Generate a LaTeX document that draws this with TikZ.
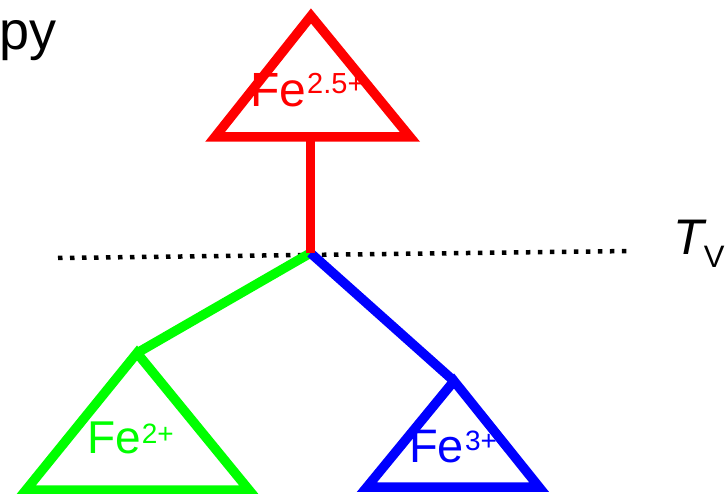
\documentclass[tikz,border=0pt]{standalone}
\usepackage{fontspec}
\setmainfont{Liberation Sans}
\definecolor{fered}{RGB}{255,0,0}
\definecolor{fegreen}{RGB}{0,255,0}
\definecolor{feblue}{RGB}{0,0,255}
\begin{document}
\begin{tikzpicture}[x=1pt,y=-1pt,
  tri/.style={line width=9.5pt,line join=miter},
  link/.style={line width=9.5pt},
  lbl/.style={inner sep=0pt,anchor=base west},
  tv/.style={line width=4.5pt,dash pattern=on 4.5pt off 7.5pt}]
\useasboundingbox (0,0) rectangle (728,494);
% top text fragment (cut by the left border)
\node[inner sep=0pt,anchor=base east] (py) at (57,50) {\fontsize{54}{54}\selectfont py};
% red triangle
\coordinate (ra) at (311,16);
\coordinate (rl) at (215,137);
\coordinate (rr) at (410,137);
\draw[tri,fered] (ra) -- (rl) -- (rr) -- cycle;
\node[lbl,text=fered] (fe25) at (250,107) {\fontsize{48}{48}\selectfont Fe\kern1pt\raisebox{13pt}{\fontsize{29}{29}\selectfont 2.5+}};
% junction
\coordinate (rb) at (310.5,137);
\coordinate (j) at (310.5,253);
% dotted line
\coordinate (dl) at (58,258);
\coordinate (dr) at (632,251);
\draw[tv] (dl) -- (dr);
\node[lbl] (tvlab) at (673,255) {\fontsize{50}{50}\selectfont\itshape T\upshape\kern0pt\raisebox{-13pt}{\fontsize{31}{31}\selectfont V}};
% green
\coordinate (ga) at (137,353);
\coordinate (gl) at (26,490);
\coordinate (gr) at (249,490);
\draw[tri,fegreen] (ga) -- (gl) -- (gr) -- cycle;
\node[lbl,text=fegreen] (fe2) at (87,453) {\fontsize{46}{46}\selectfont Fe\kern1pt\raisebox{10pt}{\fontsize{28}{28}\selectfont 2+}};
% blue
\coordinate (ba) at (454,381);
\coordinate (bl) at (367,487);
\coordinate (br) at (539,487);
\draw[tri,feblue] (ba) -- (bl) -- (br) -- cycle;
\node[lbl,text=feblue] (fe3) at (409,462) {\fontsize{47}{47}\selectfont Fe\kern1pt\raisebox{12pt}{\fontsize{28}{28}\selectfont 3+}};
% connectors
\draw[link,fegreen] (j) -- (ga);
\draw[link,feblue] (j) -- (ba);
\draw[link,fered] (rb) -- (j);
\end{tikzpicture}
\end{document}
